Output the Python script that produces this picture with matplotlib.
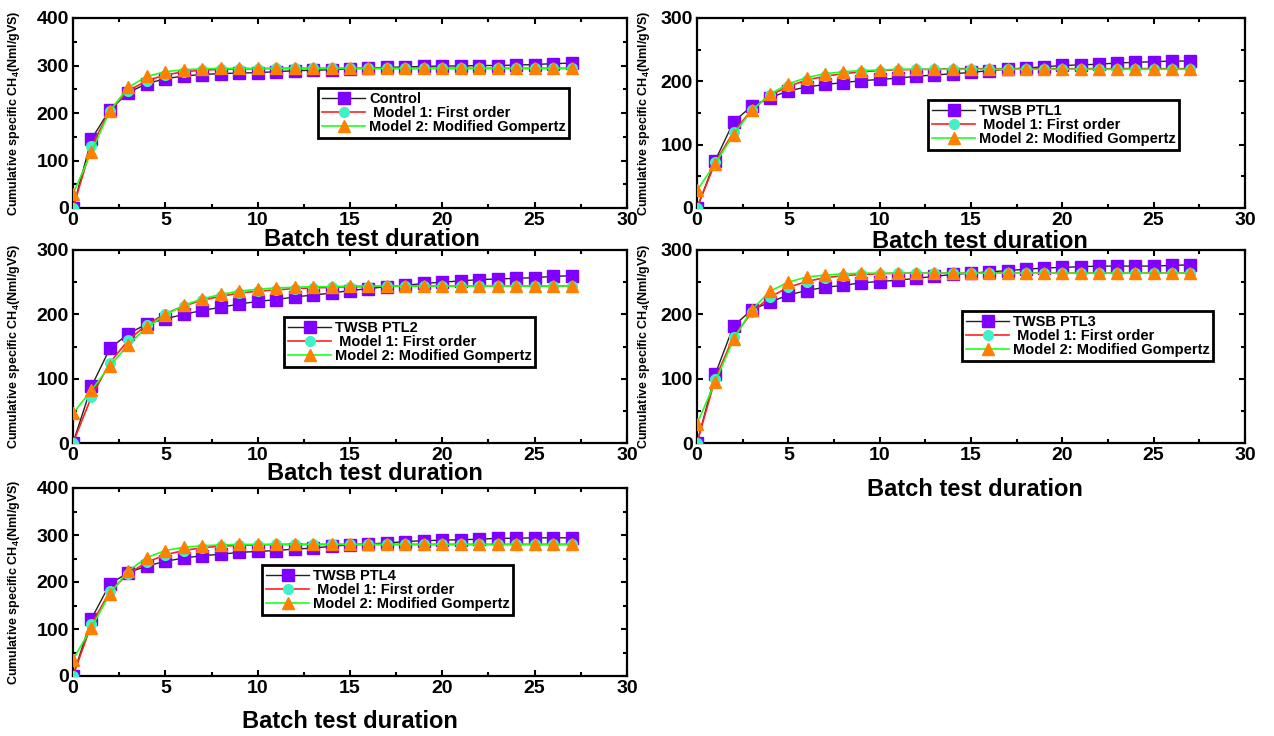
import numpy as np
import matplotlib
matplotlib.use("Agg")
import matplotlib.pyplot as plt
from matplotlib.ticker import MultipleLocator

plt.rcParams["font.family"] = ["Liberation Sans", "DejaVu Sans"]
plt.rcParams["font.weight"] = "bold"
plt.rcParams["mathtext.fontset"] = "custom"
plt.rcParams["mathtext.rm"] = "Liberation Sans:bold"
plt.rcParams["mathtext.bf"] = "Liberation Sans:bold"
plt.rcParams["mathtext.default"] = "bf"

days = list(range(28))

# Control
control_exp = [0, 145, 207, 243, 262, 272, 278, 281, 283, 284, 285, 287, 289, 290,
               291, 293, 295, 296, 297, 298, 299, 299, 300, 300, 301, 302, 304, 305]
control_m1 = [0, 130, 205, 247, 268, 280, 287, 290, 292, 293, 293, 294, 294, 294,
              294, 294, 294, 294, 294, 294, 294, 294, 294, 294, 294, 294, 294, 294]
control_m2 = [30, 118, 205, 254, 277, 287, 291, 293, 294, 294, 294, 294, 294, 294,
              294, 294, 294, 294, 294, 294, 294, 294, 294, 294, 294, 294, 294, 294]

# TWSB PTL1
ptl1_exp = [0, 75, 136, 161, 174, 185, 191, 195, 198, 201, 203, 205, 208, 210,
            212, 214, 217, 219, 221, 223, 225, 226, 227, 229, 230, 231, 232, 232]
ptl1_m1 = [0, 72, 120, 155, 178, 192, 202, 208, 212, 215, 217, 218, 219, 219,
           220, 220, 220, 220, 220, 220, 220, 220, 220, 220, 220, 220, 220, 220]
ptl1_m2 = [28, 70, 116, 154, 180, 196, 206, 212, 215, 217, 218, 219, 219, 219,
           219, 219, 219, 219, 219, 219, 219, 219, 219, 219, 219, 219, 219, 219]

# TWSB PTL2
ptl2_exp = [0, 88, 147, 170, 185, 193, 200, 206, 211, 216, 220, 223, 227, 230,
            233, 237, 240, 243, 245, 248, 250, 252, 254, 255, 256, 257, 259, 260]
ptl2_m1 = [0, 72, 125, 160, 184, 201, 213, 222, 228, 233, 236, 238, 240, 241,
           242, 243, 243, 244, 244, 244, 244, 244, 244, 244, 244, 244, 244, 244]
ptl2_m2 = [46, 82, 120, 153, 180, 199, 214, 224, 231, 236, 239, 241, 242, 243,
           243, 244, 244, 244, 244, 244, 244, 244, 244, 244, 244, 244, 244, 244]

# TWSB PTL3
ptl3_exp = [0, 107, 182, 207, 219, 230, 237, 242, 245, 249, 251, 253, 256, 259,
            262, 264, 266, 268, 270, 272, 273, 274, 275, 275, 275, 275, 276, 277]
ptl3_m1 = [0, 100, 165, 203, 227, 242, 251, 257, 260, 262, 263, 264, 264, 264,
           264, 264, 264, 264, 264, 264, 264, 264, 264, 264, 264, 264, 264, 264]
ptl3_m2 = [30, 95, 161, 207, 236, 250, 258, 261, 263, 264, 264, 264, 264, 264,
           264, 264, 264, 264, 264, 264, 264, 264, 264, 264, 264, 264, 264, 264]

# TWSB PTL4
ptl4_exp = [0, 122, 196, 220, 234, 244, 251, 256, 259, 263, 265, 267, 270, 272,
            276, 279, 281, 283, 286, 288, 289, 290, 291, 293, 293, 294, 294, 294]
ptl4_m1 = [0, 110, 180, 218, 242, 258, 267, 273, 276, 278, 279, 280, 280, 280,
           280, 280, 280, 280, 280, 280, 280, 280, 280, 280, 280, 280, 280, 280]
ptl4_m2 = [35, 103, 175, 224, 252, 267, 274, 277, 279, 280, 280, 280, 280, 280,
           280, 280, 280, 280, 280, 280, 280, 280, 280, 280, 280, 280, 280, 280]

labels_exp = ["Control", "TWSB PTL1", "TWSB PTL2", "TWSB PTL3", "TWSB PTL4"]
label_m1 = " Model 1: First order"
label_m2 = "Model 2: Modified Gompertz"
y_max = [400, 300, 300, 300, 400]

panels = [
    (control_exp, control_m1, control_m2),
    (ptl1_exp, ptl1_m1, ptl1_m2),
    (ptl2_exp, ptl2_m1, ptl2_m2),
    (ptl3_exp, ptl3_m1, ptl3_m2),
    (ptl4_exp, ptl4_m1, ptl4_m2),
]

W, H = 1274, 736
fig = plt.figure(figsize=(W / 100, H / 100), dpi=100)

# pixel boxes: left, top, right, bottom
boxes = [
    (73, 18, 627, 208),
    (697, 18, 1245, 208),
    (73, 250, 627, 443),
    (697, 250, 1245, 443),
    (73, 488, 627, 676),
]
legend_px = [(318, 88), (928, 100), (284, 317), (962, 311), (262, 565)]
xlabel_px = [(372, 240), (980, 242), (375, 474), (975, 489), (350, 722)]
ylabel_x = [22, 652, 22, 652, 22]

for i, (exp, m1, m2) in enumerate(panels):
    l, t, r, b = boxes[i]
    ax = fig.add_axes([l / W, 1 - b / H, (r - l) / W, (b - t) / H])
    ax.plot(days, exp, color="#222222", lw=1.0, marker="s", ms=8,
            mfc="#8000FF", mec="#8000FF", label=labels_exp[i], zorder=3)
    ax.plot(days, m1, color="#FF2020", lw=1.2, marker="o", ms=7,
            mfc="#40F0C8", mec="#40F0C8", label=label_m1, zorder=4)
    ax.plot(days, m2, color="#20FF20", lw=1.2, marker="^", ms=8.5,
            mfc="#FF7F00", mec="#FF7F00", label=label_m2, zorder=5)
    ax.set_xlim(0, 30)
    ax.set_ylim(0, y_max[i])
    ax.xaxis.set_major_locator(MultipleLocator(5))
    ax.xaxis.set_minor_locator(MultipleLocator(2.5))
    ax.yaxis.set_major_locator(MultipleLocator(100))
    ax.yaxis.set_minor_locator(MultipleLocator(50))
    ax.tick_params(which="both", direction="in", top=True, right=True,
                   width=1.5, labelsize=14, pad=3)
    ax.tick_params(which="major", length=4)
    ax.tick_params(which="minor", length=3)
    for lab in ax.get_xticklabels() + ax.get_yticklabels():
        lab.set_fontweight("bold")
    for s in ax.spines.values():
        s.set_linewidth(1.6)

    ax.set_ylabel("Cumulative specific CH$_4$(Nml/gVS)", fontsize=9,
                  fontweight="bold")
    ax.yaxis.set_label_coords((ylabel_x[i] - l) / (r - l), 0.5)

    lx, ly = legend_px[i]
    leg = ax.legend(loc="upper left",
                    bbox_to_anchor=((lx - l) / (r - l), (b - ly) / (b - t)),
                    borderaxespad=0, fancybox=False, frameon=True,
                    edgecolor="black", framealpha=1,
                    handlelength=3.0, handletextpad=0.25, labelspacing=0.02,
                    borderpad=0.25, prop={"weight": "bold", "size": 10.5})
    leg.get_frame().set_linewidth(2.0)

    xx, yy = xlabel_px[i]
    fig.text(xx / W, 1 - yy / H, "Batch test duration", fontsize=17,
             fontweight="bold", ha="center", va="center")

fig.savefig("out.png", dpi=100)
